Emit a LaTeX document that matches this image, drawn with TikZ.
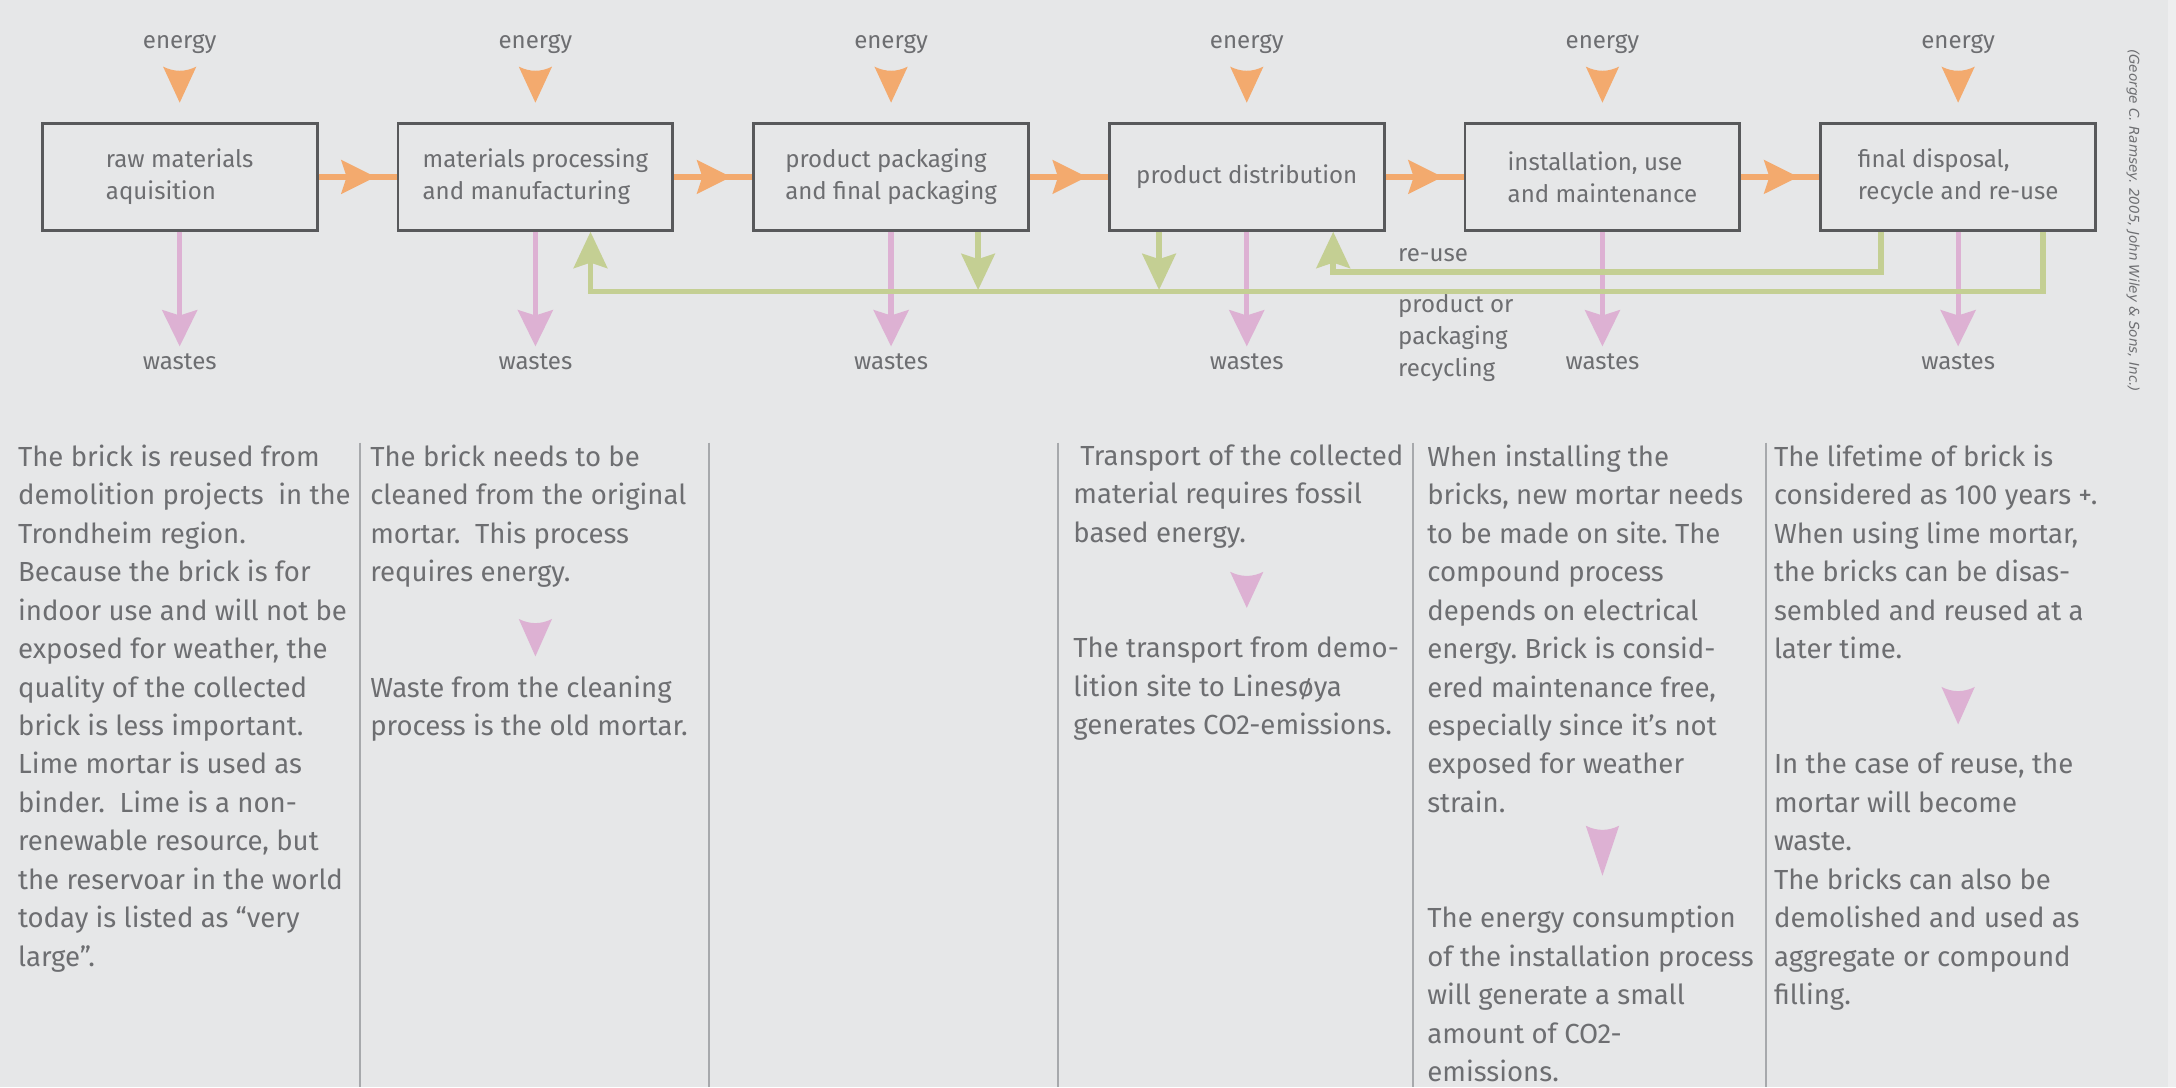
\documentclass[tikz,border=0pt]{standalone}
\usepackage{fontspec}
\setmainfont{Fira Sans}
\newfontfamily\creditfont{DejaVu Sans}
\usepackage{tikz}
\usetikzlibrary{arrows.meta,positioning,calc,decorations.markings}
\frenchspacing
\definecolor{paper}{HTML}{E6E7E8}
\definecolor{paperedge}{HTML}{EEEEEF}
\definecolor{boxline}{HTML}{58595B}
\definecolor{ink}{HTML}{6D6E71}
\definecolor{rulegray}{HTML}{A7A9AC}
\definecolor{energyorange}{HTML}{F3AA6E}
\definecolor{wastepink}{HTML}{DDB1D3}
\definecolor{recyclegreen}{HTML}{C4CF93}

\tikzset{
  stage/.style={draw=boxline, line width=0.8pt, minimum width=78.2pt,
    minimum height=30.4pt, align=left, text=ink, inner sep=0pt,
    font=\fontsize{6.85}{9.1}\selectfont},
  lbl/.style={text=ink, inner sep=2pt, font=\fontsize{6.85}{9.1}\selectfont},
  column/.style={text=ink, align=left, anchor=north west, inner sep=0pt,
    font=\fontsize{7.85}{10.94}\selectfont},
  flow/.style={draw=energyorange, line width=1.5pt, postaction={decorate},
    decoration={markings, mark=at position 0.73 with
      {\arrow{Stealth[length=9.7pt, width=9.5pt, inset=1.5pt]}}}},
  waste/.style={draw=wastepink, line width=1.5pt,
    -{Stealth[length=10.3pt, width=9.9pt, inset=1.5pt]}},
  loopin/.style={draw=recyclegreen, line width=1.6pt,
    -{Stealth[length=10.3pt, width=9.5pt, inset=1.5pt]}},
  sepline/.style={draw=rulegray, line width=0.65pt},
  pics/headdown/.style={code={
    \fill (0,0) -- (-12,-#1) .. controls (-4,-#1+4) and (4,-#1+4) .. (12,-#1) -- cycle;}}
}

\begin{document}
\begin{tikzpicture}[x=0.13878mm, y=-0.13878mm, node distance=22.2pt]
  \path[use as bounding box, fill=paper] (0,0) rectangle (1568,783.3);
  \fill[paperedge] (1562,0) rectangle (1568,783.3);

  \node[stage] (b1) at (129.5,127.5) {raw materials\\aquisition};
  \node[stage, right=of b1] (b2) {materials processing\\and manufacturing};
  \node[stage, right=of b2] (b3) {product packaging\\and final packaging};
  \node[stage, right=of b3] (b4) {product distribution};
  \node[stage, right=of b4] (b5) {installation, use\\and maintenance};
  \node[stage, right=of b5] (b6) {final disposal,\\recycle and re-use};

  \draw[flow] (b1.east) -- (b2.west);
  \draw[flow] (b2.east) -- (b3.west);
  \draw[flow] (b3.east) -- (b4.west);
  \draw[flow] (b4.east) -- (b5.west);
  \draw[flow] (b5.east) -- (b6.west);

  \node[lbl] (e1) at (b1.north |- 0,32) {energy};
  \node[lbl] (e2) at (b2.north |- 0,32) {energy};
  \node[lbl] (e3) at (b3.north |- 0,32) {energy};
  \node[lbl] (e4) at (b4.north |- 0,32) {energy};
  \node[lbl] (e5) at (b5.north |- 0,32) {energy};
  \node[lbl] (e6) at (b6.north |- 0,32) {energy};
  \pic[energyorange] at (b1.north |- 0,74) {headdown=26};
  \pic[energyorange] at (b2.north |- 0,74) {headdown=26};
  \pic[energyorange] at (b3.north |- 0,74) {headdown=26};
  \pic[energyorange] at (b4.north |- 0,74) {headdown=26};
  \pic[energyorange] at (b5.north |- 0,74) {headdown=26};
  \pic[energyorange] at (b6.north |- 0,74) {headdown=26};

  \node[lbl] (w1) at (b1.south |- 0,261) {wastes};
  \node[lbl] (w2) at (b2.south |- 0,261) {wastes};
  \node[lbl] (w3) at (b3.south |- 0,261) {wastes};
  \node[lbl] (w4) at (b4.south |- 0,261) {wastes};
  \node[lbl] (w5) at (b5.south |- 0,261) {wastes};
  \node[lbl] (w6) at (b6.south |- 0,261) {wastes};
  \draw[waste] (b1.south) -- (w1.north);
  \draw[waste] (b2.south) -- (w2.north);
  \draw[waste] (b3.south) -- (w3.north);
  \draw[waste] (b4.south) -- (w4.north);
  \draw[waste] (b5.south) -- (w5.north);
  \draw[waste] (b6.south) -- (w6.north);

  \draw[loopin] ($(b6.south)+(61,0)$) |- ($(b2.south)+(39.7,43)$) -- ($(b2.south)+(39.7,0)$);
  \draw[loopin] ($(b6.south)+(-55.6,0)$) |- ($(b4.south)+(62.3,29)$) -- ($(b4.south)+(62.3,0)$);
  \draw[loopin] ($(b3.south)+(62.7,0)$) -- ($(b3.south)+(62.7,42)$);
  \draw[loopin] ($(b4.south)+(-63.2,0)$) -- ($(b4.south)+(-63.2,42)$);
  \node[lbl, anchor=west, inner sep=0pt] (reuse) at (1007,184) {re-use};
  \node[lbl, anchor=north west, align=left, inner sep=0pt] (recyc) at (1007,212)
    {product or\\packaging\\recycling};

  \node[text=ink, rotate=-90, font=\creditfont\itshape\fontsize{3.85}{4}\selectfont]
    (credit) at (1537,159) {(George C. Ramsey. 2005, John Wiley \& Sons, Inc.)};

  \draw[sepline] (259.4,319) -- (259.4,783.3) (511,319) -- (511,783.3)
    (762.5,319) -- (762.5,783.3) (1018,319) -- (1018,783.3)
    (1272.7,319) -- (1272.7,783.3);

  \node[column] (c1) at (12.5,320) {The brick is reused from\\
    demolition projects~ in the\\Trondheim region.\\Because the brick is for\\
    indoor use and will not be\\exposed for weather, the\\quality of the collected\\
    brick is less important.\\Lime mortar is used as\\binder.~ Lime is a non-\\
    renewable resource, but\\the reservoar in the world\\today is listed as “very\\large”.};
  \node[column] (c2) at (266.3,320) {The brick needs to be\\cleaned from the original\\
    mortar.~ This process\\requires energy.\\[21.9pt]
    Waste from the cleaning\\process is the old mortar.};
  \node[column] (c4) at (773,320) {\hspace*{2pt}Transport of the collected\\
    material requires fossil\\based energy.\\[21.9pt]
    The transport from demo-\\lition site to Linesøya\\generates CO2-emissions.};
  \node[column] (c5) at (1028,320) {When installing the\\bricks, new mortar needs\\
    to be made on site. The\\compound process\\depends on electrical\\
    energy. Brick is consid-\\ered maintenance free,\\especially since it’s not\\
    exposed for weather\\strain.\\[21.9pt]
    The energy consumption\\of the installation process\\will generate a small\\
    amount of CO2-\\emissions.};
  \node[column] (c6) at (1277.8,320) {The lifetime of brick is\\
    considered as 100 years +.\\When using lime mortar,\\the bricks can be disas-\\
    sembled and reused at a\\later time.\\[21.9pt]
    In the case of reuse, the\\mortar will become\\waste.\\The bricks can also be\\
    demolished and used as\\aggregate or compound\\filling.};

  \pic[wastepink] at (b2.south |- 0,473) {headdown=27};
  \pic[wastepink] at (b4.south |- 0,438) {headdown=26};
  \pic[wastepink] at (b5.south |- 0,631) {headdown=36};
  \pic[wastepink] at (b6.south |- 0,522) {headdown=27};
\end{tikzpicture}
\end{document}
